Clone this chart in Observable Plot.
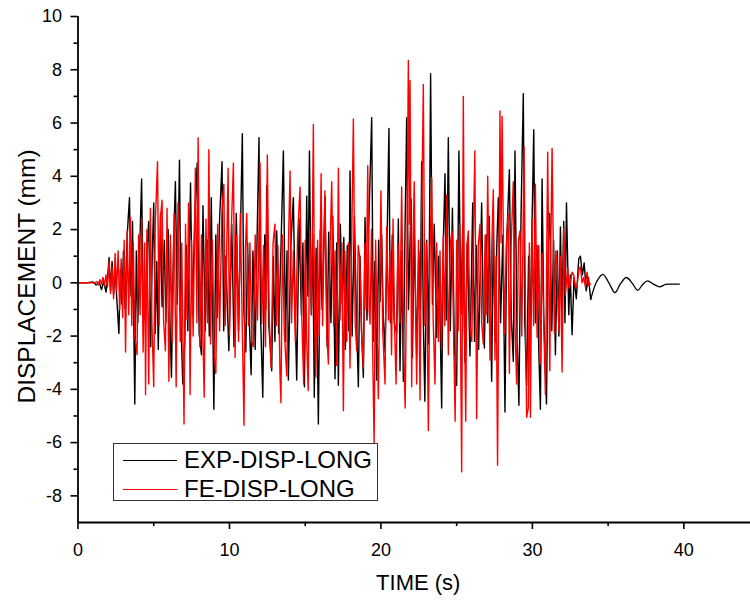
<!DOCTYPE html>
<html><head><meta charset="utf-8">
<script src="https://cdn.jsdelivr.net/npm/d3@7"></script>
<script src="https://cdn.jsdelivr.net/npm/@observablehq/plot@0.6"></script>
<style>
body{margin:0;background:#fff;font-family:"Liberation Sans",Arial,sans-serif;}
#wrap{position:relative;width:750px;height:600px;}
#legend{position:absolute;left:113px;top:443px;width:265px;height:58px;border:1.5px solid #333;background:#fff;box-sizing:border-box;}
.row{position:absolute;left:0;display:flex;align-items:center;height:28px;}
.swatch{width:54px;margin-left:9px;margin-right:7px;height:0;}
.lab{font-size:24px;color:#000;line-height:28px;}
</style></head><body><div id="wrap"></div>
<script>
// Series names and axis text
const seriesNames = ["EXP-DISP-LONG", "FE-DISP-LONG"];
const seriesColors = ["#000000", "#ff0000"];
const xTitle = "TIME (s)";
const yTitle = "DISPLACEMENT (mm)";
const xMajor = [0, 10, 20, 30, 40];
const xMinor = [5, 15, 25, 35];
const yMajor = [-8, -6, -4, -2, 0, 2, 4, 6, 8, 10];
const yMinor = [-7, -5, -3, -1, 1, 3, 5, 7, 9];

// EXP-DISP-LONG: [time (s), displacement (mm)]
const expMain = [
[0,0],[0.6,0],[1.0,0.03],[1.2,-0.08],[1.4,0.02],[1.55,-0.25],[1.7,0.05],[1.85,-0.35],[1.95,0.15],
[2.05,0.95],[2.15,-0.3],[2.25,0.8],[2.35,-0.45],[2.45,0.6],[2.55,-0.5],[2.7,-1.9],[2.8,0.5],[2.9,-0.8],[3.0,1.2],[3.1,-0.95],[3.25,1.8],[3.4,3.2],[3.5,-0.5],[3.6,2.3],[3.68,-1.4],[3.75,-4.55],[3.85,1.2],[3.95,-1.5],
[4.05,0.8],[4.2,3.9],[4.3,-0.8],[4.45,-1.4],[4.55,1.2],[4.67,2.3],[4.8,-2.4],[4.9,1.0],[5.0,3.0],[5.1,-1.9],[5.2,0.8],[5.3,-2.5],[5.45,2.6],[5.55,-0.9],[5.7,1.6],[5.8,-1.5],[5.95,2.0],
[6.05,-1.0],[6.17,-3.55],[6.3,1.2],[6.43,3.8],[6.55,-0.8],[6.7,4.6],[6.8,-1.6],[6.92,-3.8],[7.05,-2.2],[7.15,1.4],[7.25,-1.8],[7.43,3.75],[7.55,-1.2],[7.7,2.2],[7.87,4.5],
[8.0,-1.9],[8.15,-2.7],[8.25,2.9],[8.4,-1.8],[8.55,1.6],[8.67,-2.0],[8.8,3.2],[8.97,-4.75],[9.1,1.8],[9.2,-1.3],[9.35,2.4],[9.51,4.55],[9.62,-1.8],[9.75,1.0],[9.96,-2.55],
[10.04,-0.7],[10.15,2.2],[10.3,-2.4],[10.45,2.6],[10.6,-1.8],[10.7,1.2],[10.85,5.6],[10.95,-1.0],[11.08,-2.6],[11.2,1.5],[11.32,-1.6],[11.43,-3.45],[11.55,1.2],[11.7,-2.5],[11.82,1.6],[11.95,5.45],
[12.05,-1.2],[12.2,-4.3],[12.33,1.8],[12.4,-1.0],[12.46,3.65],[12.6,-1.6],[12.79,-3.3],[12.9,1.0],[13.0,-2.2],[13.12,1.95],[13.25,-1.9],[13.4,1.3],[13.56,4.95],[13.7,-2.2],[13.8,1.2],[13.89,-3.65],
[14.05,1.4],[14.22,3.2],[14.35,-1.5],[14.44,-3.65],[14.6,2.4],[14.75,-1.2],[14.85,1.5],[14.95,-3.9],[15.1,3.25],[15.18,-0.5],[15.28,4.95],[15.4,-1.2],[15.5,1.8],[15.6,-4.3],[15.72,1.3],[15.87,-5.3],
[16.0,2.0],[16.12,-1.0],[16.31,3.25],[16.45,-2.4],[16.55,1.9],[16.7,-1.5],[16.82,2.5],[16.97,-3.6],[17.08,1.5],[17.19,-3.85],[17.32,2.2],[17.45,-0.8],[17.55,1.7],[17.65,-2.5],[17.78,1.4],[17.88,-1.8],[17.96,4.2],
[18.1,-2.0],[18.25,2.5],[18.38,-1.2],[18.51,-3.9],[18.62,1.0],[18.72,-1.8],[18.84,-3.55],[18.95,2.45],[19.08,-1.4],[19.2,2.2],[19.39,6.2],[19.5,-2.2],[19.6,0.8],[19.72,-3.65],[19.85,1.6],[19.94,-0.7],
[20.05,1.8],[20.15,-1.2],[20.27,-2.6],[20.4,1.4],[20.53,5.8],[20.62,-1.5],[20.75,1.8],[20.88,-1.5],[21.04,-1.9],[21.15,2.4],[21.26,-3.3],[21.38,1.2],[21.48,-3.7],[21.58,1.5],[21.7,6.2],[21.82,-1.0],[21.99,3.15],
[22.08,-2.8],[22.2,2.0],[22.36,-2.7],[22.5,1.2],[22.6,-1.0],[22.69,4.55],[22.8,-1.5],[22.9,-4.45],[23.02,1.6],[23.15,-2.3],[23.28,7.85],[23.4,-0.8],[23.52,2.2],[23.68,-2.05],[23.8,1.0],[23.9,-1.2],
[24.01,-4.7],[24.12,1.5],[24.23,4.1],[24.32,-1.4],[24.45,5.45],[24.58,-1.8],[24.72,2.8],[24.85,-2.5],[25.0,-3.85],[25.15,4.95],[25.28,-1.2],[25.4,2.2],[25.55,-3.0],[25.7,1.5],[25.88,-2.75],
[26.06,3.0],[26.18,-2.2],[26.3,1.4],[26.45,-2.5],[26.65,3.0],[26.75,-1.0],[26.83,-2.45],[26.95,1.8],[27.05,-1.5],[27.15,2.5],[27.31,-3.7],[27.42,1.9],[27.55,-2.2],[27.65,1.4],[27.75,3.2],[27.9,-1.5],
[28.05,1.8],[28.19,-4.85],[28.3,1.5],[28.48,4.25],[28.6,-1.2],[28.74,-2.95],[28.85,4.95],[28.98,-1.8],[29.11,-4.6],[29.25,2.5],[29.4,7.1],[29.5,-1.5],[29.62,-3.85],[29.75,1.0],[29.85,-1.8],
[30.09,5.75],[30.2,-1.5],[30.3,1.4],[30.42,-2.5],[30.53,-4.75],[30.64,3.9],[30.75,-1.2],[30.93,-4.55],[31.05,1.6],[31.15,2.6],[31.28,-1.8],[31.4,1.6],[31.52,-2.7],[31.65,1.2],[31.75,-2.0],[31.85,2.1],[31.95,-1.2],
[32.07,2.3],[32.15,-1.5],[32.25,3.0],[32.4,-1.2],[32.5,0.3],[32.62,-1.95],[32.75,0.2],[32.9,-0.6],[33.06,0.9],[33.17,1.0],[33.3,0.3],[33.42,0.75],[33.55,-0.3],[33.7,0.2],[33.85,-0.62]
];
// EXP free-vibration tail after the shaking
const expTail = [
[34.25,0.05],[34.65,0.32],[35.05,0.0],[35.45,-0.37],[35.8,-0.05],[36.2,0.2],[36.6,-0.02],[36.95,-0.28],[37.3,-0.05],[37.6,0.07],[38.0,-0.05],[38.4,-0.15],[38.8,-0.06],[39.2,-0.05],[39.7,-0.05]
];

// FE-DISP-LONG: [time (s), displacement (mm)]
const feMain = [
[0,0],[1.1,0],[1.25,0.05],[1.35,-0.08],[1.45,0.12],[1.55,-0.05],[1.65,0.2],[1.75,-0.1],[1.85,0.3],[1.95,-0.15],
[2.05,0.8],[2.15,-0.4],[2.25,0.6],[2.35,-0.6],[2.45,1.1],[2.55,-0.3],[2.65,1.2],[2.75,-1.0],[2.85,0.9],[2.95,-1.3],[3.05,1.6],[3.14,-2.6],[3.25,1.95],[3.35,-1.2],[3.46,2.45],[3.55,-1.6],[3.65,1.5],[3.75,-2.0],[3.9,-2.7],
[4.0,1.8],[4.1,-1.2],[4.2,2.4],[4.3,-2.6],[4.4,1.5],[4.46,-4.2],[4.55,2.0],[4.67,-3.8],[4.78,2.8],[4.88,-1.5],[5.0,-3.9],[5.1,2.2],[5.25,4.55],[5.35,-1.6],[5.45,2.5],[5.55,3.1],[5.65,-1.4],[5.77,-2.55],[5.88,2.8],
[6.0,-3.7],[6.1,1.8],[6.22,-2.2],[6.35,2.6],[6.48,-3.9],[6.6,3.0],[6.75,-2.2],[6.85,1.5],[7.0,-5.3],[7.1,2.2],[7.2,-1.4],[7.3,3.0],[7.4,-4.2],[7.5,1.6],[7.6,-2.0],[7.75,4.3],[7.85,-1.5],[7.93,5.45],
[8.05,-2.4],[8.15,1.8],[8.25,-2.0],[8.33,-4.3],[8.45,2.4],[8.55,-1.5],[8.64,5.0],[8.75,-2.3],[8.87,1.6],[9.0,-2.8],[9.1,-3.4],[9.22,2.2],[9.35,-1.8],[9.5,2.6],[9.63,3.7],[9.72,-1.6],[9.82,1.2],[9.91,4.3],
[10.0,-2.0],[10.1,1.6],[10.26,4.5],[10.37,-2.8],[10.48,1.8],[10.6,-2.2],[10.72,2.6],[10.85,-1.8],[10.96,-5.35],[11.05,1.2],[11.14,2.6],[11.25,-1.6],[11.35,1.5],[11.47,-2.2],[11.58,-2.4],[11.7,1.8],[11.85,-1.4],
[12.02,4.5],[12.13,-1.55],[12.25,1.4],[12.38,-2.4],[12.5,4.8],[12.62,-1.2],[12.75,-3.2],[12.88,1.5],[13.0,2.2],[13.1,-1.6],[13.2,1.4],[13.34,-3.55],[13.4,-4.5],[13.5,1.8],[13.62,-1.8],[13.78,-3.5],[13.9,1.6],
[14.0,4.2],[14.1,-1.5],[14.22,1.2],[14.35,-2.2],[14.5,1.8],[14.66,3.6],[14.78,-1.4],[14.9,-3.8],[15.0,1.6],[15.1,-2.2],[15.2,-4.05],[15.3,2.0],[15.42,-1.2],[15.54,5.95],[15.62,-1.5],[15.7,-3.55],[15.82,1.6],[15.92,-2.0],
[16.05,4.1],[16.15,-1.6],[16.3,3.45],[16.42,-1.8],[16.53,-3.05],[16.65,1.5],[16.75,3.8],[16.88,-1.6],[16.97,1.2],[17.08,-3.1],[17.19,4.3],[17.3,-1.4],[17.42,1.5],[17.52,-4.8],[17.62,1.2],[17.74,-2.2],[17.85,1.5],[17.96,-3.2],
[18.08,2.0],[18.18,6.15],[18.3,-1.5],[18.4,-2.55],[18.5,1.4],[18.6,0.95],[18.72,-1.8],[18.84,-3.2],[18.95,1.5],[19.02,-1.0],[19.13,4.4],[19.22,-1.0],[19.28,-1.55],[19.38,2.0],[19.45,-2.4],[19.55,-6.05],[19.65,1.6],[19.75,-2.0],[19.83,-4.35],
[20.0,3.45],[20.12,-1.8],[20.27,-3.8],[20.38,2.1],[20.5,-1.4],[20.6,1.2],[20.7,-2.7],[20.8,2.4],[20.9,-1.6],[21.0,-3.8],[21.12,1.5],[21.25,-1.5],[21.37,3.6],[21.48,-2.0],[21.6,-4.7],[21.72,1.5],[21.81,8.35],[21.87,2.2],[21.92,7.6],
[22.03,-3.9],[22.12,1.5],[22.2,3.8],[22.3,-1.5],[22.36,-3.8],[22.48,1.6],[22.58,-4.4],[22.68,2.0],[22.8,7.45],[22.9,-1.6],[23.0,1.5],[23.13,-5.55],[23.25,1.4],[23.35,3.95],[23.45,-1.4],[23.57,-3.8],[23.68,1.5],[23.8,-2.2],[23.9,1.2],
[24.0,-2.5],[24.12,1.8],[24.22,-1.6],[24.34,3.3],[24.45,-2.7],[24.58,1.5],[24.7,1.95],[24.8,-2.0],[24.9,-5.2],[25.0,1.6],[25.1,-1.8],[25.2,2.2],[25.33,-7.1],[25.44,7.0],[25.52,-1.5],[25.6,-5.2],[25.68,1.4],[25.77,1.95],[25.88,-1.6],
[26.0,-2.2],[26.1,1.6],[26.2,4.95],[26.32,-5.1],[26.43,1.4],[26.54,2.2],[26.65,-1.5],[26.76,-2.3],[26.88,1.8],[26.95,-1.2],[27.05,4.0],[27.2,-2.9],[27.32,1.4],[27.42,3.5],[27.53,-2.9],[27.6,1.0],[27.7,-6.85],[27.86,6.45],[27.93,1.5],
[28.0,6.25],[28.15,-1.9],[28.28,1.4],[28.4,2.6],[28.48,-3.4],[28.6,1.5],[28.74,3.8],[28.85,-1.6],[28.96,-3.8],[29.08,1.6],[29.18,1.95],[29.3,-2.0],[29.45,5.1],[29.55,-1.5],[29.62,-5.05],[29.73,-4.7],[29.8,1.5],[29.87,-5.05],[29.98,2.4],
[30.08,-1.6],[30.2,3.7],[30.31,-2.05],[30.42,1.4],[30.53,-3.05],[30.64,1.1],[30.75,-1.5],[30.86,-4.2],[31.01,4.9],[31.15,-3.3],[31.22,1.5],[31.3,5.05],[31.45,-1.9],[31.55,1.2],[31.63,0.7],[31.75,-1.8],[31.85,1.0],[31.96,-3.35],
[32.07,2.05],[32.18,-0.45],[32.33,0.55],[32.42,-0.2],[32.5,-0.05],[32.62,0.4],[32.73,0.3],[32.85,-0.2],[32.95,-0.1],[33.06,0.45],[33.17,0.6],[33.28,0.0],[33.39,0.2],[33.5,-0.15],[33.61,0.4],[33.72,-0.1],[33.83,-0.05]
];

const toRows = arr => arr.map(([t, v]) => ({t, v}));
const expRows = toRows(expMain);
const expTailRows = toRows([expMain[expMain.length - 1], ...expTail]);
const feRows = toRows(feMain);

const fmt = d => String(d);
const font = '"Liberation Sans", Arial, sans-serif';

const chart = Plot.plot({
  width: 750, height: 600,
  marginLeft: 77.5, marginRight: 0, marginTop: 16, marginBottom: 78,
  x: {domain: [0, 44.4]},
  y: {domain: [-9, 10]},
  style: {fontFamily: font, background: "#fff", color: "#000"},
  marks: [
    Plot.line(expRows, {x: "t", y: "v", stroke: seriesColors[0], strokeWidth: 1.4}),
    Plot.line(expTailRows, {x: "t", y: "v", stroke: seriesColors[0], strokeWidth: 1.3, curve: "catmull-rom"}),
    Plot.line(feRows, {x: "t", y: "v", stroke: seriesColors[1], strokeWidth: 1.4}),
    Plot.ruleY([-9], {stroke: "#000", strokeWidth: 1.8}),
    Plot.ruleX([0], {stroke: "#000", strokeWidth: 1.8}),
    Plot.axisX(xMajor, {tickSize: 7, tickPadding: 14, fontSize: 18, strokeWidth: 1.6, tickFormat: fmt, label: null}),
    Plot.axisX(xMinor, {tickSize: 4, strokeWidth: 1.6, tickFormat: () => "", label: null}),
    Plot.axisY(yMajor, {tickSize: 7, tickPadding: 9, fontSize: 18, strokeWidth: 1.6, tickFormat: fmt, label: null}),
    Plot.axisY(yMinor, {tickSize: 4, strokeWidth: 1.6, tickFormat: () => "", label: null}),
    Plot.text([xTitle], {frameAnchor: "bottom", dx: 4, dy: 60, fontSize: 22, text: d => d, lineAnchor: "middle", textAnchor: "middle"}),
    Plot.text([yTitle], {frameAnchor: "left", dx: -51, dy: 7, rotate: -90, fontSize: 24.5, text: d => d, lineAnchor: "middle", textAnchor: "middle"})
  ]
});

const wrap = document.getElementById("wrap");
wrap.appendChild(chart);

const legend = document.createElement("div");
legend.id = "legend";
seriesNames.forEach((name, i) => {
  const row = document.createElement("div");
  row.className = "row";
  row.style.top = (2 + i * 29) + "px";
  const sw = document.createElement("div");
  sw.className = "swatch";
  sw.style.borderTop = "1.5px solid " + seriesColors[i];
  const lab = document.createElement("span");
  lab.className = "lab";
  lab.textContent = name;
  row.appendChild(sw);
  row.appendChild(lab);
  legend.appendChild(row);
});
wrap.appendChild(legend);
</script>
</body></html>
